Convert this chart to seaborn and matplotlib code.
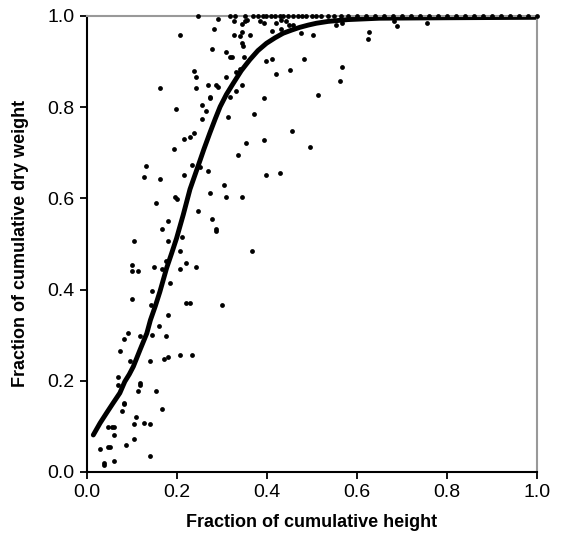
import numpy as np
import pandas as pd
import matplotlib
matplotlib.use("Agg")
import matplotlib.pyplot as plt
import seaborn as sns

# scattered points (fraction of cumulative height, fraction of cumulative dry weight)
dots_x = [0.206, 0.238, 0.242, 0.162, 0.242, 0.198, 0.255, 0.255, 0.238, 0.228, 0.215, 0.193, 0.233, 0.131,
          0.291, 0.327, 0.351, 0.356, 0.344, 0.384, 0.393, 0.420, 0.432, 0.442, 0.450, 0.457, 0.282, 0.327,
          0.344, 0.340, 0.362, 0.411, 0.432, 0.476, 0.503, 0.344, 0.347, 0.278, 0.309, 0.318, 0.322, 0.349,
          0.398, 0.411, 0.482, 0.340, 0.331, 0.420, 0.451, 0.309, 0.269, 0.287, 0.291, 0.344, 0.331, 0.273,
          0.273, 0.318, 0.393, 0.513, 0.264, 0.313, 0.371, 0.456, 0.353, 0.393, 0.496, 0.336,
          0.553, 0.566, 0.682, 0.690, 0.757, 0.628, 0.624, 0.566, 0.562,
          0.127, 0.162, 0.216, 0.195, 0.199, 0.153, 0.247, 0.180, 0.167, 0.104, 0.180, 0.211, 0.207, 0.100,
          0.100, 0.113, 0.149, 0.167, 0.220, 0.242, 0.207, 0.176, 0.184, 0.144, 0.100, 0.220, 0.229, 0.180,
          0.142,
          0.251, 0.269, 0.398, 0.429, 0.304, 0.273, 0.309, 0.344, 0.278, 0.287, 0.287, 0.367, 0.300,
          0.161, 0.091, 0.082, 0.118, 0.144, 0.176, 0.073, 0.096, 0.140, 0.171, 0.180, 0.207, 0.233, 0.069,
          0.069, 0.118, 0.118, 0.113, 0.153, 0.082, 0.082, 0.078, 0.167, 0.109, 0.047, 0.056, 0.060, 0.104,
          0.127, 0.140, 0.060, 0.104, 0.029, 0.047, 0.051, 0.087, 0.140, 0.038, 0.038, 0.060]
dots_y = [0.959, 0.880, 0.867, 0.841, 0.841, 0.797, 0.805, 0.775, 0.744, 0.735, 0.731, 0.709, 0.674, 0.670,
          0.994, 0.990, 0.990, 0.992, 0.982, 0.990, 0.984, 0.985, 0.991, 0.990, 0.981, 0.981, 0.972, 0.959,
          0.964, 0.955, 0.959, 0.968, 0.972, 0.963, 0.959, 0.941, 0.933, 0.928, 0.920, 0.911, 0.911, 0.911,
          0.902, 0.906, 0.906, 0.884, 0.876, 0.872, 0.881, 0.867, 0.849, 0.849, 0.845, 0.849, 0.836, 0.823,
          0.819, 0.823, 0.819, 0.827, 0.792, 0.779, 0.784, 0.748, 0.722, 0.727, 0.713, 0.696,
          0.981, 0.985, 0.990, 0.977, 0.985, 0.964, 0.950, 0.889, 0.858,
          0.647, 0.643, 0.651, 0.603, 0.599, 0.590, 0.572, 0.550, 0.533, 0.507, 0.507, 0.515, 0.485, 0.454,
          0.441, 0.441, 0.450, 0.445, 0.458, 0.450, 0.445, 0.463, 0.414, 0.397, 0.379, 0.371, 0.371, 0.344,
          0.366,
          0.669, 0.660, 0.651, 0.656, 0.629, 0.612, 0.603, 0.603, 0.555, 0.533, 0.529, 0.485, 0.366,
          0.319, 0.305, 0.292, 0.297, 0.301, 0.297, 0.266, 0.244, 0.244, 0.248, 0.253, 0.257, 0.257, 0.209,
          0.191, 0.196, 0.191, 0.178, 0.178, 0.152, 0.148, 0.134, 0.139, 0.121, 0.099, 0.099, 0.099, 0.104,
          0.108, 0.104, 0.080, 0.073, 0.051, 0.055, 0.055, 0.060, 0.034, 0.020, 0.016, 0.025]

# points sitting on the 1.0 line
top_x = [0.246, 0.318, 0.330, 0.352, 0.370, 0.380, 0.391, 0.399, 0.409, 0.418, 0.429, 0.436, 0.447, 0.458,
         0.469, 0.477, 0.488, 0.50, 0.51, 0.52, 0.535, 0.55, 0.565, 0.58, 0.60, 0.62, 0.64, 0.66, 0.68, 0.70,
         0.72, 0.74, 0.76, 0.78, 0.80, 0.82, 0.84, 0.86, 0.88, 0.90, 0.92, 0.94, 0.96, 0.98, 1.0]
top_y = [1.0] * len(top_x)

# mean curve
curve_x = [0.014, 0.029, 0.044, 0.058, 0.073, 0.084, 0.094, 0.103, 0.118, 0.133, 0.141, 0.152, 0.162, 0.177,
           0.188, 0.199, 0.214, 0.229, 0.246, 0.260, 0.273, 0.285, 0.296, 0.310, 0.325, 0.343, 0.362, 0.380,
           0.399, 0.418, 0.436, 0.455, 0.473, 0.492, 0.510, 0.536, 0.58, 0.65, 0.80, 1.0]
curve_y = [0.081, 0.107, 0.130, 0.151, 0.173, 0.198, 0.214, 0.231, 0.268, 0.304, 0.333, 0.364, 0.395, 0.447,
           0.479, 0.512, 0.564, 0.620, 0.668, 0.708, 0.743, 0.774, 0.801, 0.828, 0.852, 0.880, 0.904, 0.924,
           0.940, 0.952, 0.962, 0.969, 0.975, 0.980, 0.984, 0.988, 0.992, 0.995, 0.996, 0.997]

pts = pd.DataFrame({"h": dots_x + top_x, "w": dots_y + top_y})
crv = pd.DataFrame({"h": curve_x, "w": curve_y})

sns.set_style("white")
plt.rcParams["font.family"] = ["Liberation Sans", "DejaVu Sans"]
plt.rcParams["text.color"] = "black"
plt.rcParams["axes.labelcolor"] = "black"
plt.rcParams["xtick.color"] = "black"
plt.rcParams["ytick.color"] = "black"

fig = plt.figure(figsize=(5.65, 5.5), dpi=100)
ax = fig.add_axes([0.154, 0.142, 0.796, 0.829])

sns.lineplot(data=crv, x="h", y="w", ax=ax, color="black", lw=3.5, sort=False)
sns.scatterplot(data=pts, x="h", y="w", ax=ax, color="black", s=12, linewidth=0, clip_on=False, zorder=3)

ax.set_xlim(0, 1)
ax.set_ylim(0, 1)
ax.set_xticks(np.arange(0, 1.01, 0.2))
ax.set_yticks(np.arange(0, 1.01, 0.2))
ax.xaxis.set_major_formatter(matplotlib.ticker.FormatStrFormatter("%.1f"))
ax.yaxis.set_major_formatter(matplotlib.ticker.FormatStrFormatter("%.1f"))
ax.tick_params(direction="out", length=5, width=1.3, color="black", labelcolor="black",
               labelsize=14, bottom=True, left=True, pad=4)
ax.set_xlabel("Fraction of cumulative height", fontsize=13, fontweight="bold", labelpad=9)
ax.set_ylabel("Fraction of cumulative dry weight", fontsize=13, fontweight="bold", labelpad=13)

for side in ["left", "bottom"]:
    ax.spines[side].set_color("black")
    ax.spines[side].set_linewidth(1.5)
for side in ["top", "right"]:
    ax.spines[side].set_color("#999999")
    ax.spines[side].set_linewidth(1.5)

plt.savefig("out.png", dpi=100)
